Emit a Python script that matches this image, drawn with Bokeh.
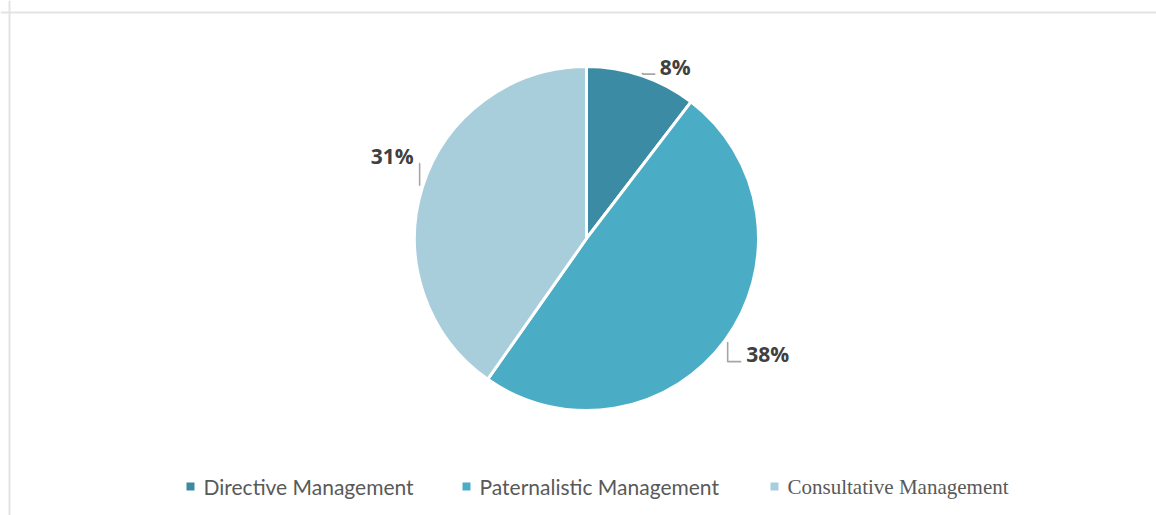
import numpy as np
from bokeh.plotting import figure
from bokeh.models import Range1d, Span
from bokeh.core.properties import value
from bokeh.embed import file_html
from bokeh.resources import INLINE

# ---- data ----
categories = ["Directive Management", "Paternalistic Management", "Consultative Management"]
values = [8, 38, 31]
labels = [f"{v}%" for v in values]
colors = ["#3A8BA3", "#4BACC6", "#A8CEDC"]

# ---- layout (pixel-like data space: x = px, y = 515 - px) ----
W, H = 1156, 515
CX, CY, R = 586, H - 238, 172
label_r = [193, 215, 211]          # label distance from centre
label_shift = [8.7, -3.7, 5.4]     # degrees, label nudge vs. mid angle
leader_off = [(-20, -7), (-26.5, -7.5), (27.5, -7)]  # leader end vs. label centre
legend_x = [190, 466, 774]
legend_fonts = ["Lato", "Lato", "Liberation Serif"]
legend_y = H - 486

p = figure(width=W, height=H, x_range=Range1d(0, W), y_range=Range1d(0, H),
           output_backend="svg", toolbar_location=None,
           x_axis_location=None, y_axis_location=None, min_border=0)
p.grid.visible = False
p.outline_line_color = None
p.background_fill_color = "white"

# frame lines (left & top)
p.add_layout(Span(location=9, dimension="height", line_color="#e3e3e3", line_width=2))
p.add_layout(Span(location=H - 12, dimension="width", line_color="#e3e3e3", line_width=2))

vals = np.array(values, dtype=float)
frac = vals / vals.sum()
cum = np.concatenate([[0], np.cumsum(frac)])
start = np.pi / 2 - 2 * np.pi * cum[:-1]
end = np.pi / 2 - 2 * np.pi * cum[1:]

p.wedge(x=CX, y=CY, radius=R, start_angle=start, end_angle=end, direction="clock",
        fill_color=colors, line_color="white", line_width=3)

# labels and leader lines (clockwise-from-top angles)
mid = (cum[:-1] + cum[1:]) / 2 * 360.0
lx, ly, xs, ys = [], [], [], []
for i in range(len(values)):
    a = np.radians(mid[i] + label_shift[i])
    x = CX + label_r[i] * np.sin(a)
    y = CY + label_r[i] * np.cos(a)
    lx.append(x); ly.append(y)
    am = np.radians(mid[i])
    ex = CX + (R + 3) * np.sin(am)
    ey = CY + (R + 3) * np.cos(am)
    kx = x + leader_off[i][0]
    ky = y + leader_off[i][1]
    xs.append([ex, ex, kx]); ys.append([ey, ky, ky])

p.multi_line(xs=xs, ys=ys, line_color="#a6a6a6", line_width=1.6)
p.text(x=lx, y=ly, text=labels, text_align="center", text_baseline="middle",
       text_font=value("Open Sans"), text_font_style="bold",
       text_font_size="21px", text_color="#404040")

# legend
for i, cat in enumerate(categories):
    p.scatter(x=[legend_x[i]], y=[legend_y], marker="square", size=8,
              fill_color=colors[i], line_color=None)
    p.text(x=[legend_x[i] + 13], y=[legend_y], text=[cat], text_align="left",
           text_baseline="middle", text_font=value(legend_fonts[i]),
           text_font_size="21px", text_color="#595959")

open("out.html", "w").write(file_html(p, INLINE))
